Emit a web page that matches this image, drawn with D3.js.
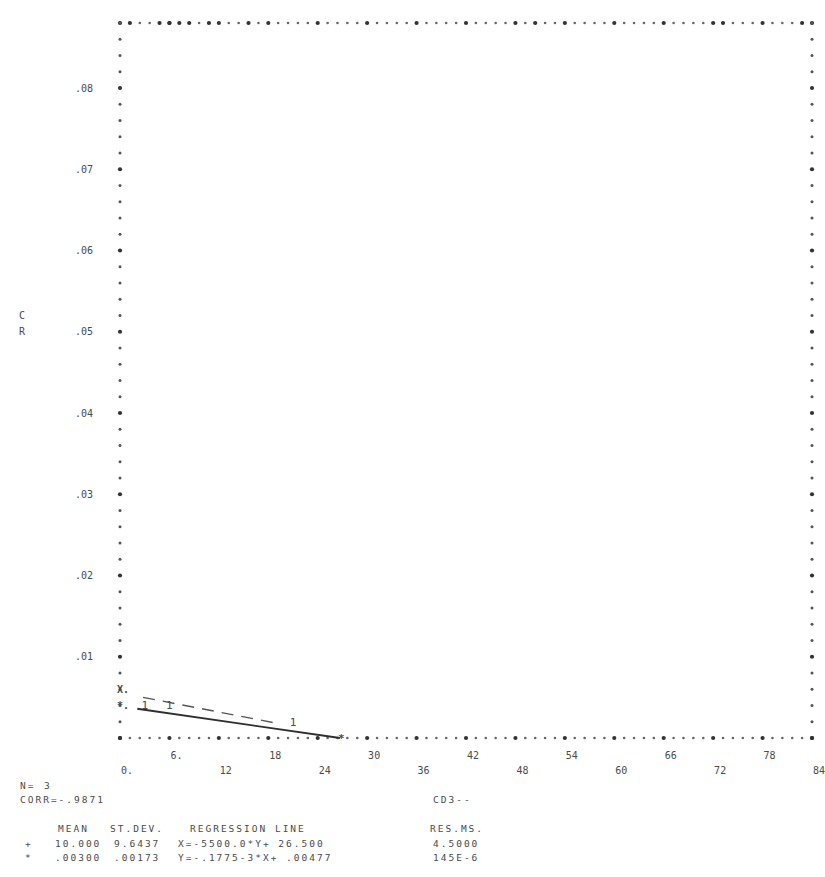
<!DOCTYPE html>
<html>
<head>
<meta charset="utf-8">
<script src="https://cdn.jsdelivr.net/npm/d3@7"></script>
<style>
	body { margin: 0; background: #fff; }
	text { font-family: "DejaVu Sans Mono", "Liberation Mono", monospace; fill: #4a4a4a; }
	.block text, text.block { letter-spacing: 2px; }
</style>
</head>
<body>
<div class="js-graph"></div>
<script>
// data
var xVals = [3, 6, 21],
	yVals = [0.004, 0.004, 0.001],
	pointChars = ['1', '1', '1'];

var yTicks = [0.01, 0.02, 0.03, 0.04, 0.05, 0.06, 0.07, 0.08],
	yTickLabels = ['.01', '.02', '.03', '.04', '.05', '.06', '.07', '.08'];

var xTicksLower = [0, 12, 24, 36, 48, 60, 72, 84],
	xLabelsLower = ['0.', '12', '24', '36', '48', '60', '72', '84'],
	xTicksUpper = [6, 18, 30, 42, 54, 66, 78],
	xLabelsUpper = ['6.', '18', '30', '42', '54', '66', '78'];

// hand drawn lines (end points)
var solidLine = [{ x: 2.1, y: 0.0036 }, { x: 26.7, y: 0 }],
	dashedLine = [{ x: 2.8, y: 0.0050 }, { x: 19.1, y: 0.0018 }];

// extra overprinted marks
var topExtraCols = [1, 4, 5, 6, 7, 9, 13, 42, 61, 69],
	leftMarkVals = [0.006, 0.004],
	leftMarkChars = ['X.', '*.'],
	bottomMarkVals = [26.87];

var statHeads = ['MEAN', 'ST.DEV.', 'REGRESSION LINE', 'RES.MS.'],
	xStats = ['+', '10.000', '9.6437', 'X=-5500.0*Y+ 26.500', '4.5000'],
	yStats = ['*', '.00300', '.00173', 'Y=-.1775-3*X+ .00477', '145E-6'];

(function(d3) {
	var w = 825, h = 877,
		graph = d3.select('.js-graph').append('svg');
	graph.attr('width', w).attr('height', h);

	var x = d3.scaleLinear().domain([0, 84]).range([120, 812]),
		y = d3.scaleLinear().domain([0, 0.088]).range([738, 23]),
		charW = (x(6) - x(0)) / 5,
		nCols = 70, nRows = 44;

	// border rows of dots, ticks every 5 columns
	var cols = d3.range(nCols + 1);
	[0, 0.088].forEach(function(v) {
		graph.append('g')
			.selectAll('circle')
			.data(cols)
			.enter()
			.append('circle')
			.attr('cx', function(c) { return x(0) + c * charW; })
			.attr('cy', y(v))
			.attr('r', function(c) { return c % 5 === 0 ? 2.1 : 1.3; })
			.attr('fill', function(c) { return c % 5 === 0 ? '#333' : '#666'; });
	});

	graph.append('g')
		.selectAll('circle')
		.data(topExtraCols)
		.enter()
		.append('circle')
		.attr('cx', function(c) { return x(0) + c * charW; })
		.attr('cy', y(0.088))
		.attr('r', 2.1)
		.attr('fill', '#333');

	var rows = d3.range(nRows + 1);
	[0, 84].forEach(function(v) {
		graph.append('g')
			.selectAll('circle')
			.data(rows)
			.enter()
			.append('circle')
			.attr('cx', x(v))
			.attr('cy', function(i) { return y(i * 0.002); })
			.attr('r', function(i) { return i % 5 === 0 ? 2.1 : 1.5; })
			.attr('fill', function(i) { return i % 5 === 0 ? '#333' : '#555'; });
	});

	// y tick labels
	graph.append('g')
		.selectAll('text')
		.data(yTicks)
		.enter()
		.append('text')
		.attr('x', 93)
		.attr('y', function(d) { return y(d); })
		.attr('dy', '0.35em')
		.attr('text-anchor', 'end')
		.style('font-size', '10px')
		.text(function(d, i) { return yTickLabels[i]; });

	// y label, printed vertically
	graph.append('g')
		.selectAll('text')
		.data(['C', 'R'])
		.enter()
		.append('text')
		.attr('x', 22)
		.attr('y', function(d, i) { return y(0.052 - i * 0.002); })
		.attr('dy', '0.35em')
		.attr('text-anchor', 'middle')
		.style('font-size', '10px')
		.text(function(d) { return d; });

	// x tick labels, two staggered rows
	graph.append('g')
		.selectAll('text')
		.data(xTicksUpper)
		.enter()
		.append('text')
		.attr('x', function(d) { return x(d) + 7; })
		.attr('y', 755)
		.attr('dy', '0.35em')
		.attr('text-anchor', 'middle')
		.style('font-size', '10px')
		.text(function(d, i) { return xLabelsUpper[i]; });

	graph.append('g')
		.selectAll('text')
		.data(xTicksLower)
		.enter()
		.append('text')
		.attr('x', function(d) { return x(d) + 7; })
		.attr('y', 770)
		.attr('dy', '0.35em')
		.attr('text-anchor', 'middle')
		.style('font-size', '10px')
		.text(function(d, i) { return xLabelsLower[i]; });

	// marks overprinted on the axes
	graph.append('g')
		.selectAll('text')
		.data(leftMarkVals)
		.enter()
		.append('text')
		.attr('x', x(0) - 3)
		.attr('y', function(d) { return y(d); })
		.attr('dy', '0.35em')
		.style('font-size', '10px')
		.style('font-weight', 'bold')
		.text(function(d, i) { return leftMarkChars[i]; });

	graph.append('g')
		.selectAll('text')
		.data(bottomMarkVals)
		.enter()
		.append('text')
		.attr('x', function(d) { return x(d); })
		.attr('y', y(0))
		.attr('dy', '0.35em')
		.attr('text-anchor', 'middle')
		.style('font-size', '11px')
		.style('font-weight', 'bold')
		.text('*');

	// pencil lines
	var line = d3.line()
		.x(function(d) { return x(d.x); })
		.y(function(d) { return y(d.y); });

	graph.append('path')
		.datum(solidLine)
		.attr('d', line)
		.attr('fill', 'none')
		.style('stroke', '#2e2e2e')
		.style('stroke-width', 1.8);

	graph.append('path')
		.datum(dashedLine)
		.attr('d', line)
		.attr('fill', 'none')
		.style('stroke', '#555')
		.style('stroke-width', 1.4)
		.style('stroke-dasharray', '12,8');

	// points, snapped to printer lines
	var pts = xVals.map(function(v, i) { return { x: v, y: yVals[i], ch: pointChars[i] }; });
	graph.append('g')
		.selectAll('text')
		.data(pts)
		.enter()
		.append('text')
		.attr('x', function(d) { return x(d.x); })
		.attr('y', function(d) { return y(Math.round(d.y / 0.002) * 0.002); })
		.attr('dy', '0.35em')
		.attr('text-anchor', 'middle')
		.style('font-size', '11px')
		.text(function(d) { return d.ch; });

	// summary block under the plot
	var block = graph.append('g').attr('class', 'block');
	var small = function(sel) { return sel.style('font-size', '9.5px').attr('dy', '0.35em'); };
	small(block.append('text').attr('x', 20).attr('y', 786)).text('N=');
	small(block.append('text').attr('x', 44).attr('y', 786)).text('3');
	small(block.append('text').attr('x', 20).attr('y', 800)).text('CORR=-.9871');
	small(block.append('text').attr('x', 433).attr('y', 800)).text('CD3--');

	var colX = [58, 110, 190, 430],
		rowX = [25, 55, 114, 178, 433];
	block.append('g')
		.selectAll('text')
		.data(statHeads)
		.enter()
		.append('text')
		.attr('x', function(d, i) { return colX[i]; })
		.attr('y', 829)
		.attr('dy', '0.35em')
		.style('font-size', '9.5px')
		.text(function(d) { return d; });

	[xStats, yStats].forEach(function(row, r) {
		block.append('g')
			.selectAll('text')
			.data(row)
			.enter()
			.append('text')
			.attr('x', function(d, i) { return rowX[i]; })
			.attr('y', 844 + r * 14)
			.attr('dy', '0.35em')
			.style('font-size', '9.5px')
			.style('white-space', 'pre')
			.text(function(d) { return d; });
	});
})(d3);
</script>
</body>
</html>
